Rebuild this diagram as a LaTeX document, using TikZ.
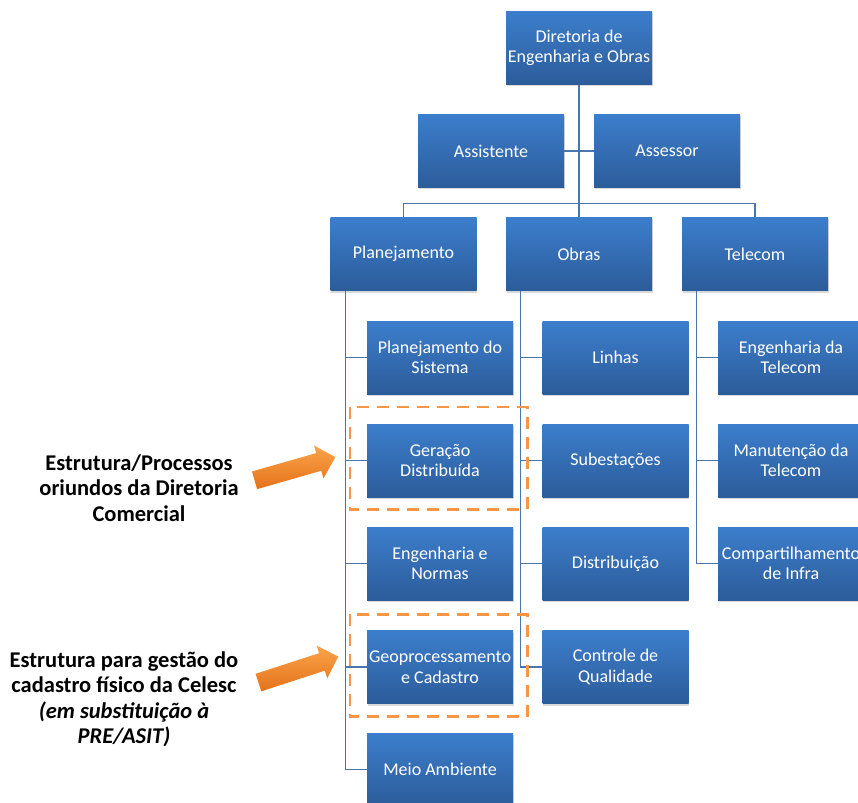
\documentclass[tikz,border=0pt]{standalone}
\usepackage{fontspec}
\setmainfont{Carlito}
\usepackage{tikz}
\usetikzlibrary{shapes.arrows,shadows,calc}

\definecolor{boxtop}{RGB}{60,126,204}
\definecolor{boxbot}{RGB}{44,92,154}
\definecolor{linkblue}{RGB}{74,118,176}
\definecolor{dashorange}{RGB}{247,150,70}
\definecolor{arrowtop}{RGB}{250,164,74}
\definecolor{arrowbot}{RGB}{228,114,26}

\tikzset{
  unit/.style={rectangle, minimum width=146pt, minimum height=73pt, inner sep=1pt,
    top color=boxtop, bottom color=boxbot, text=white, align=center,
    font=\fontsize{18}{20.5}\selectfont,
    drop shadow={shadow xshift=0.6pt, shadow yshift=-2pt, opacity=0.3}},
  link/.style={draw=linkblue, line width=1.2pt},
  dashbox/.style={draw=dashorange, line width=2.6pt, dash pattern=on 12pt off 8pt},
  bigarrow/.style={single arrow, minimum height=84pt, inner xsep=0pt, inner ysep=9pt,
    single arrow head extend=8pt,
    top color=arrowtop, bottom color=arrowbot},
  note/.style={align=center, font=\bfseries\fontsize{22.5}{25.5}\selectfont}
}

\begin{document}
\begin{tikzpicture}[x=1pt,y=-1pt]
		\useasboundingbox (0,0) rectangle (858,802);
		\clip (0,0) rectangle (858,802);
		%top
		\node [unit] (dir) at (579,48) {Diretoria de\\Engenharia e Obras};
		\node [unit] (assist) at (491,151) {Assistente};
		\node [unit] (assess) at (667,151) {Assessor};
		%second level
		\node [unit] (plan) at (403.5,254) {Planejamento};
		\node [unit] (obras) at (579,254) {Obras};
		\node [unit] (tele) at (755,254) {Telecom};
		%Planejamento
		\node [unit] (psis) at (440,357.5) {Planejamento do\\Sistema};
		\node [unit] (gd) at (440,460.5) {Geração\\Distribuída};
		\node [unit] (eng) at (440,563.5) {Engenharia e\\Normas};
		\node [unit] (geo) at (440,667) {Geoprocessamento\\e Cadastro};
		\node [unit] (meio) at (440,769.5) {Meio Ambiente};
		%Obras
		\node [unit] (lin) at (615.5,357.5) {Linhas};
		\node [unit] (sub) at (615.5,460.5) {Subestações};
		\node [unit] (dist) at (615.5,563.5) {Distribuição};
		\node [unit] (qual) at (615.5,667) {Controle de\\Qualidade};
		%Telecom
		\node [unit] (etel) at (791,357.5) {Engenharia da\\Telecom};
		\node [unit] (mtel) at (791,460.5) {Manutenção da\\Telecom};
		\node [unit] (comp) at (791,563.5) {Compartilhamento\\de Infra};
		%links
		\draw [link] (dir) -- (obras);
		\draw [link] (assist) -- (assess);
		\draw [link] (plan.north) -- ++(0,-14) -| (tele.north);
		\coordinate (ptrunk) at ([xshift=15pt]plan.south west);
		\coordinate (otrunk) at ([xshift=15pt]obras.south west);
		\coordinate (ttrunk) at ([xshift=15pt]tele.south west);
		\foreach \c in {psis,gd,eng,geo,meio} \draw [link] (\c.west) -| (ptrunk);
		\foreach \c in {lin,sub,dist,qual} \draw [link] (\c.west) -| (otrunk);
		\foreach \c in {etel,mtel,comp} \draw [link] (\c.west) -| (ttrunk);
		%destaques
		\draw [dashbox] ($(gd.north west)+(-17,-17)$) rectangle ($(gd.south east)+(14,12)$);
		\draw [dashbox] ($(geo.north west)+(-17,-16)$) rectangle ($(geo.south east)+(14,13)$);
		\node [bigarrow, rotate=16] (arr1) at (290.5,470) {};
		\node [bigarrow, rotate=18] (arr2) at (294,671) {};
		\node [note] (txt1) at (139,488) {Estrutura/Processos\\oriundos da Diretoria\\Comercial};
		\node [note] (txt2) at (124,699.5) {Estrutura para gestão do\\cadastro físico da Celesc\\\textit{(em substituição à}\\\textit{PRE/ASIT)}};
\end{tikzpicture}
\end{document}
